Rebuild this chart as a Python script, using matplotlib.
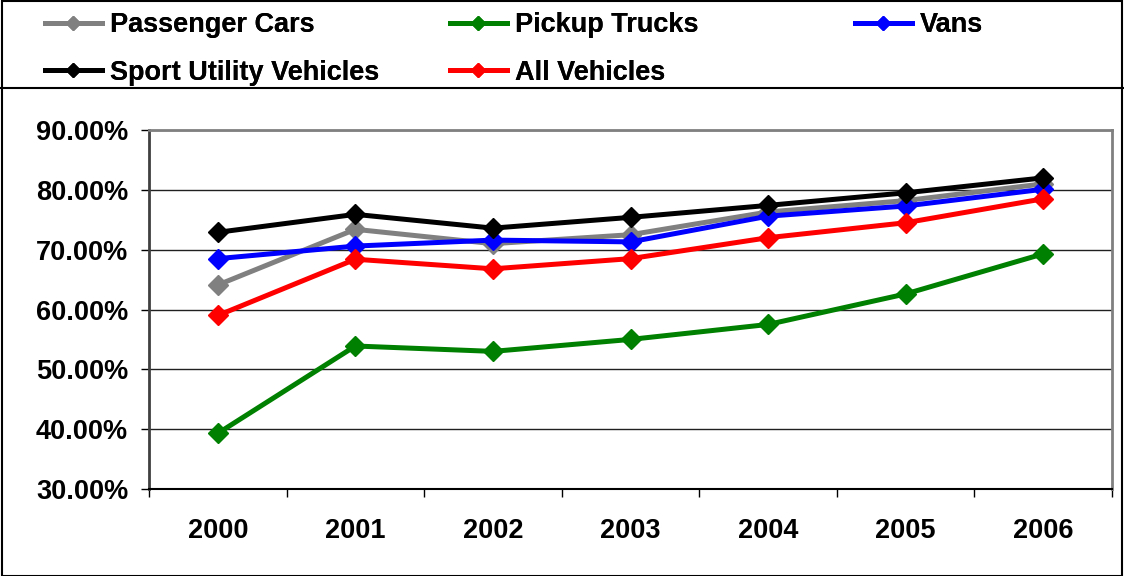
import numpy as np
import matplotlib.pyplot as plt
from matplotlib.patches import Rectangle
from matplotlib.lines import Line2D
from matplotlib.ticker import FuncFormatter

plt.rcParams['font.family'] = ['Liberation Sans', 'DejaVu Sans']
plt.rcParams['font.weight'] = 'bold'

years = ['2000', '2001', '2002', '2003', '2004', '2005', '2006']
passenger_cars = [64.1, 73.4, 71.0, 72.5, 76.3, 78.2, 81.0]
pickup_trucks = [39.3, 53.9, 53.0, 55.0, 57.5, 62.6, 69.3]
vans = [68.5, 70.6, 71.6, 71.3, 75.6, 77.3, 80.1]
suvs = [72.9, 75.9, 73.6, 75.4, 77.4, 79.5, 82.0]
all_vehicles = [59.0, 68.4, 66.8, 68.5, 72.0, 74.5, 78.5]

series = [
    ('Passenger Cars', passenger_cars, '#808080'),
    ('Pickup Trucks', pickup_trucks, '#008000'),
    ('Vans', vans, '#0000ff'),
    ('Sport Utility Vehicles', suvs, '#000000'),
    ('All Vehicles', all_vehicles, '#ff0000'),
]

fig = plt.figure(figsize=(11.24, 5.76), dpi=100)
ax = fig.add_axes([149/1124, 1-489/576, (1112-149)/1124, (489-130)/576])

x = np.arange(len(years))
handles = {}
for name, vals, col in series:
    ln, = ax.plot(x, vals, color=col, lw=3.6, marker='D', ms=10,
                  mec=col, mfc=col, label=name, zorder=3)
    handles[name] = ln

ax.set_xlim(-0.5, len(years) - 0.5)
ax.set_ylim(30, 90)
ax.set_yticks(np.arange(30, 91, 10))
ax.yaxis.set_major_formatter(FuncFormatter(lambda v, p: '%.2f%%' % v))
ax.set_xticks(x)
ax.set_xticklabels(years)
ax.set_xticks(np.arange(-0.5, len(years), 1.0), minor=True)
ax.tick_params(axis='x', which='major', length=0, pad=21, labelsize=19.5)
ax.tick_params(axis='x', which='minor', length=6, width=1, color='black')
ax.tick_params(axis='y', length=6, width=1, pad=9, labelsize=19.5)
for lab in ax.get_xticklabels() + ax.get_yticklabels():
    lab.set_fontweight('bold')

ax.yaxis.grid(True, color='#202020', lw=1)
ax.set_axisbelow(True)
ax.spines['left'].set_color('#404040')
ax.spines['left'].set_linewidth(2)
ax.spines['bottom'].set_color('black')
ax.spines['bottom'].set_linewidth(1.5)
ax.spines['top'].set_color('#808080')
ax.spines['top'].set_linewidth(2)
ax.spines['right'].set_color('#808080')
ax.spines['right'].set_linewidth(2)

# legend laid out as three equal columns like the original
cols = [['Passenger Cars', 'Sport Utility Vehicles'],
        ['Pickup Trucks', 'All Vehicles'],
        ['Vans']]
xs = [45/1124, 450/1124, 855/1124]
for names, xpos in zip(cols, xs):
    leg = fig.legend([handles[n] for n in names], names, loc='upper left',
                     bbox_to_anchor=(xpos, 0.979), frameon=False, borderpad=0,
                     borderaxespad=0, handlelength=2.1, handletextpad=0.3,
                     labelspacing=0.8, markerscale=0.75,
                     prop={'size': 19.5, 'weight': 'bold'})
    fig.add_artist(leg)

# chart border and legend separator
fig.add_artist(Rectangle((0.002, 0.0), 0.996, 0.998, transform=fig.transFigure,
                         fill=False, ec='black', lw=1.5))
fig.add_artist(Line2D([0, 1], [1-88/576, 1-88/576], transform=fig.transFigure,
                      color='black', lw=1.5))

fig.savefig('out.png', dpi=100)
